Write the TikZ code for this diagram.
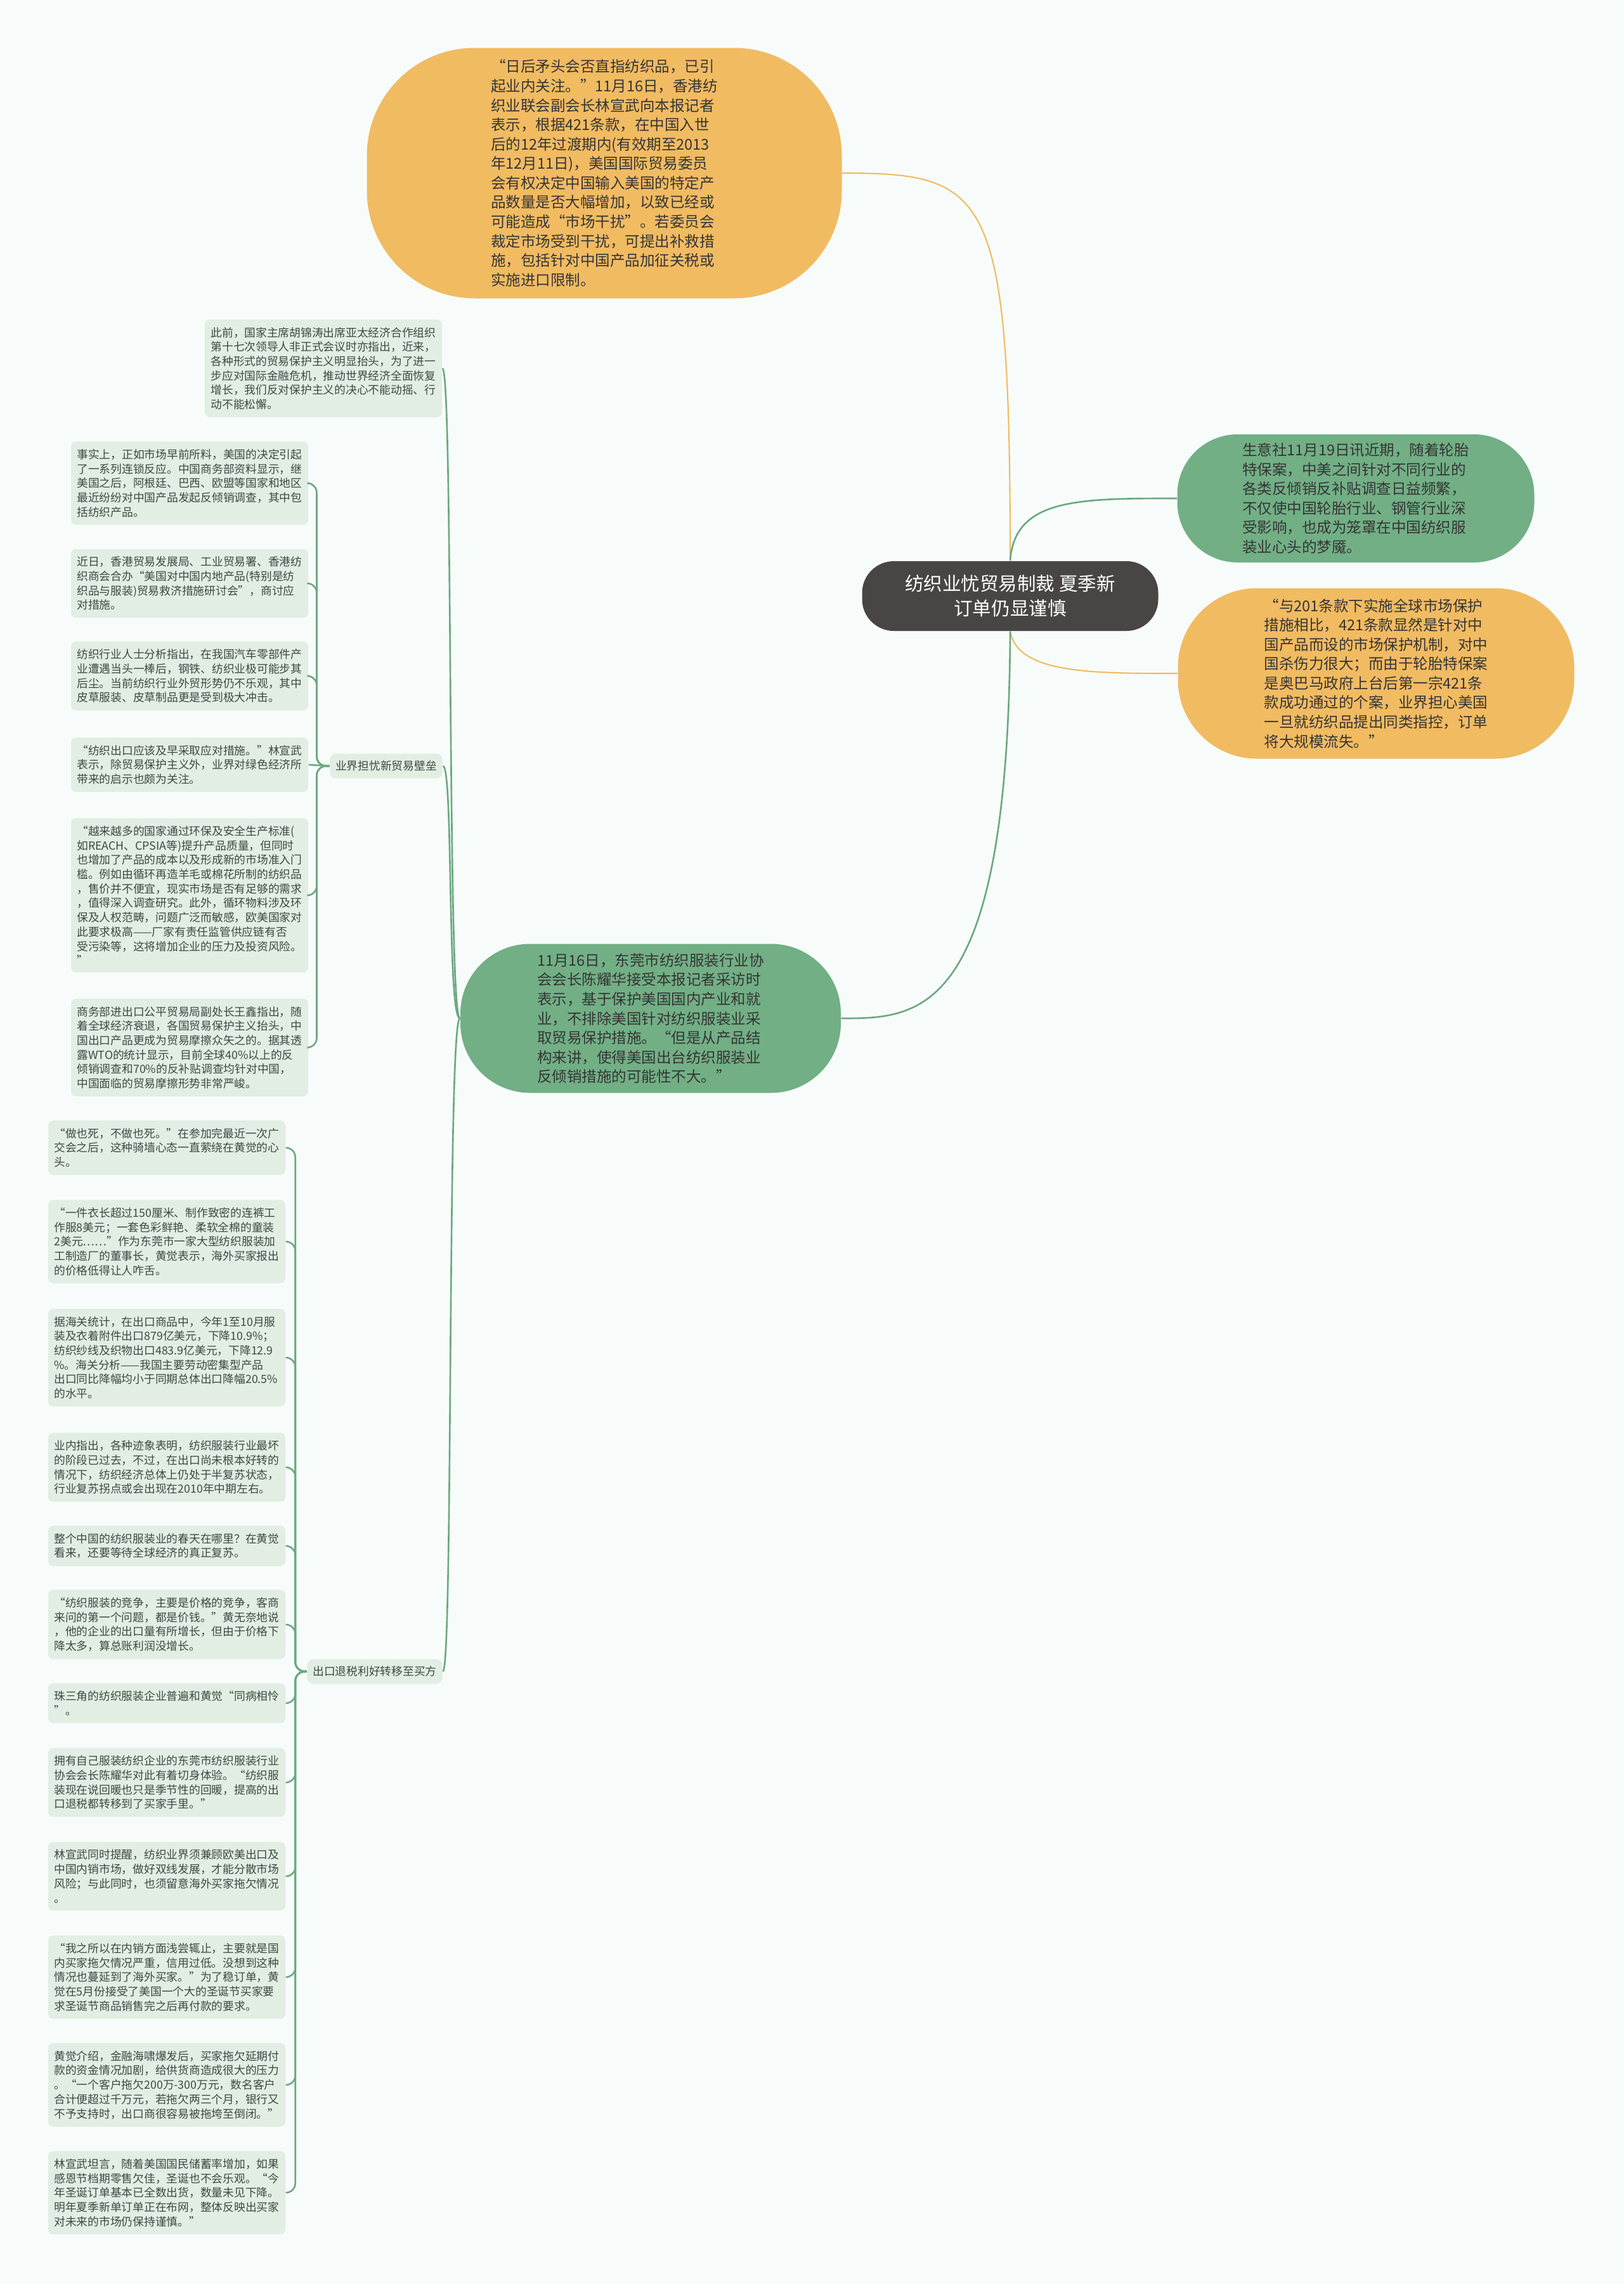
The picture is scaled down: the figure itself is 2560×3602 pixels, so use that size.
\documentclass[tikz,border=0pt]{standalone}
\usepackage{fontspec}
\setmainfont{Noto Sans CJK SC}

\definecolor{paper}{HTML}{F7FCFA}
\definecolor{rootgray}{HTML}{4A4545}
\definecolor{warmorange}{HTML}{F1BB62}
\definecolor{leafgreen}{HTML}{72AF85}
\definecolor{palegreen}{HTML}{E2EDE4}
\definecolor{linegreen}{HTML}{6DA881}
\definecolor{inktext}{HTML}{353535}
\definecolor{boxtext}{HTML}{3D4A40}

\begin{document}
\begin{tikzpicture}[
x=0.1mm, y=-0.1mm,
every node/.style={inner sep=0pt},
root/.style={
    fill=rootgray,
    text=white,
    rounded corners=5mm,
    minimum width=46.7mm,
    minimum height=11mm,
    align=center,
    font=\fontsize{8.4}{11.1}\selectfont
},
bigbox/.style={
    text=inktext,
    align=left,
    font=\fontsize{6.69}{8.7}\selectfont
},
topic/.style={
    fill=palegreen,
    text=boxtext,
    rounded corners=1mm,
    inner xsep=0.9mm,
    minimum height=3.9mm,
    font=\fontsize{5.05}{6.46}\selectfont
},
leaf/.style={
    fill=palegreen,
    text=boxtext,
    rounded corners=0.8mm,
    align=left,
    text width=35.5mm,
    inner xsep=0.95mm,
    inner ysep=1.2mm,
    font=\fontsize{5.05}{6.46}\selectfont
},
warmline/.style={draw=warmorange, line width=0.6pt},
coolline/.style={draw=linegreen, line width=0.75pt}
]

\useasboundingbox (0,0) rectangle (2560,3602);
\fill[paper] (0,0) rectangle (2560,3602);

%---------------- Centre and big topics ----------------
\node[root] (c) at (1593,940) {纺织业忧贸易制裁 夏季新\\订单仍显谨慎};

\node[bigbox, fill=warmorange, minimum width=74.9mm, minimum height=39.5mm,
      rounded corners=17mm] (ot) at (953,273) {“日后矛头会否直指纺织品，已引\\起业内关注。”11月16日，香港纺\\织业联会副会长林宣武向本报记者\\表示，根据421条款，在中国入世\\后的12年过渡期内(有效期至2013\\年12月11日)，美国国际贸易委员\\会有权决定中国输入美国的特定产\\品数量是否大幅增加，以致已经或\\可能造成“市场干扰”。若委员会\\裁定市场受到干扰，可提出补救措\\施，包括针对中国产品加征关税或\\实施进口限制。};

\node[bigbox, fill=leafgreen, minimum width=56.3mm, minimum height=20.2mm,
      rounded corners=9.5mm] (rg) at (2138,786) {生意社11月19日讯近期，随着轮胎\\特保案，中美之间针对不同行业的\\各类反倾销反补贴调查日益频繁，\\不仅使中国轮胎行业、钢管行业深\\受影响，也成为笼罩在中国纺织服\\装业心头的梦魇。};

\node[bigbox, fill=warmorange, minimum width=62.5mm, minimum height=26.9mm,
      rounded corners=12.5mm] (ro) at (2170,1062) {“与201条款下实施全球市场保护\\措施相比，421条款显然是针对中\\国产品而设的市场保护机制，对中\\国杀伤力很大；而由于轮胎特保案\\是奥巴马政府上台后第一宗421条\\款成功通过的个案，业界担心美国\\一旦就纺织品提出同类指控，订单\\将大规模流失。”};

\node[bigbox, fill=leafgreen, minimum width=60mm, minimum height=23.5mm,
      rounded corners=11mm] (bg) at (1026,1606) {11月16日，东莞市纺织服装行业协\\会会长陈耀华接受本报记者采访时\\表示，基于保护美国国内产业和就\\业，不排除美国针对纺织服装业采\\取贸易保护措施。“但是从产品结\\构来讲，使得美国出台纺织服装业\\反倾销措施的可能性不大。”};

\draw[warmline] (c.north) .. controls (1593,300) and (1560,273) .. (ot.east);
\draw[coolline] (c.north) .. controls (1600,786) and (1700,786) .. (rg.west);
\draw[warmline] (c.south) .. controls (1605,1062) and (1720,1062) .. (ro.west);
\draw[coolline] (c.south) .. controls (1590,1606) and (1450,1606) .. (bg.east);

%---------------- Left branches ----------------
\node[leaf] (pre) at (510,581) {此前，国家主席胡锦涛出席亚太经济合作组织\\第十七次领导人非正式会议时亦指出，近来，\\各种形式的贸易保护主义明显抬头，为了进一\\步应对国际金融危机，推动世界经济全面恢复\\增长，我们反对保护主义的决心不能动摇、行\\动不能松懈。};
\node[topic] (yj) at (609,1208) {业界担忧新贸易壁垒};
\node[topic] (ck) at (591,2636) {出口退税利好转移至买方};

\draw[coolline] (bg.west) .. controls (705,1606) and (715,581) .. (pre.east);
\draw[coolline] (bg.west) .. controls (705,1606) and (715,1208) .. (yj.east);
\draw[coolline] (bg.west) .. controls (705,1606) and (715,2636) .. (ck.east);

%---------------- Trade barrier worries ----------------
\node[leaf] (a) at (299,762) {事实上，正如市场早前所料，美国的决定引起\\了一系列连锁反应。中国商务部资料显示，继\\美国之后，阿根廷、巴西、欧盟等国家和地区\\最近纷纷对中国产品发起反倾销调查，其中包\\括纺织产品。};
\node[leaf] (b) at (299,920) {近日，香港贸易发展局、工业贸易署、香港纺\\织商会合办“美国对中国内地产品(特别是纺\\织品与服装)贸易救济措施研讨会”，商讨应\\对措施。};
\node[leaf] (d) at (299,1066) {纺织行业人士分析指出，在我国汽车零部件产\\业遭遇当头一棒后，钢铁、纺织业极可能步其\\后尘。当前纺织行业外贸形势仍不乐观，其中\\皮草服装、皮草制品更是受到极大冲击。};
\node[leaf] (e) at (299,1206) {“纺织出口应该及早采取应对措施。”林宣武\\表示，除贸易保护主义外，业界对绿色经济所\\带来的启示也颇为关注。};
\node[leaf] (f) at (299,1412) {“越来越多的国家通过环保及安全生产标准(\\如REACH、CPSIA等)提升产品质量，但同时\\也增加了产品的成本以及形成新的市场准入门\\槛。例如由循环再造羊毛或棉花所制的纺织品\\，售价并不便宜，现实市场是否有足够的需求\\，值得深入调查研究。此外，循环物料涉及环\\保及人权范畴，问题广泛而敏感，欧美国家对\\此要求极高——厂家有责任监管供应链有否\\受污染等，这将增加企业的压力及投资风险。\\”};
\node[leaf] (g) at (299,1652) {商务部进出口公平贸易局副处长王鑫指出，随\\着全球经济衰退，各国贸易保护主义抬头，中\\国出口产品更成为贸易摩擦众矢之的。据其透\\露WTO的统计显示，目前全球40\%以上的反\\倾销调查和70\%的反补贴调查均针对中国，\\中国面临的贸易摩擦形势非常严峻。};

\draw[coolline, rounded corners=1.5mm] (yj.west) -- ++(-20,0) |- (a.east);
\draw[coolline, rounded corners=1.5mm] (yj.west) -- ++(-20,0) |- (b.east);
\draw[coolline, rounded corners=1.5mm] (yj.west) -- ++(-20,0) |- (d.east);
\draw[coolline] (yj.west) -- (e.east);
\draw[coolline, rounded corners=1.5mm] (yj.west) -- ++(-20,0) |- (f.east);
\draw[coolline, rounded corners=1.5mm] (yj.west) -- ++(-20,0) |- (g.east);

%---------------- Export tax rebate ----------------
\node[leaf] (h) at (263,1810) {“做也死，不做也死。”在参加完最近一次广\\交会之后，这种骑墙心态一直萦绕在黄觉的心\\头。};
\node[leaf] (i) at (263,1958) {“一件衣长超过150厘米、制作致密的连裤工\\作服8美元；一套色彩鲜艳、柔软全棉的童装\\2美元……”作为东莞市一家大型纺织服装加\\工制造厂的董事长，黄觉表示，海外买家报出\\的价格低得让人咋舌。};
\node[leaf] (j) at (263,2141) {据海关统计，在出口商品中，今年1至10月服\\装及衣着附件出口879亿美元，下降10.9\%；\\纺织纱线及织物出口483.9亿美元，下降12.9\\\%。海关分析——我国主要劳动密集型产品\\出口同比降幅均小于同期总体出口降幅20.5\%\\的水平。};
\node[leaf] (k) at (263,2314) {业内指出，各种迹象表明，纺织服装行业最坏\\的阶段已过去，不过，在出口尚未根本好转的\\情况下，纺织经济总体上仍处于半复苏状态，\\行业复苏拐点或会出现在2010年中期左右。};
\node[leaf] (l) at (263,2438) {整个中国的纺织服装业的春天在哪里？在黄觉\\看来，还要等待全球经济的真正复苏。};
\node[leaf] (m) at (263,2562) {“纺织服装的竞争，主要是价格的竞争，客商\\来问的第一个问题，都是价钱。”黄无奈地说\\，他的企业的出口量有所增长，但由于价格下\\降太多，算总账利润没增长。};
\node[leaf] (n) at (263,2686) {珠三角的纺织服装企业普遍和黄觉“同病相怜\\”。};
\node[leaf] (o) at (263,2811) {拥有自己服装纺织企业的东莞市纺织服装行业\\协会会长陈耀华对此有着切身体验。“纺织服\\装现在说回暖也只是季节性的回暖，提高的出\\口退税都转移到了买家手里。”};
\node[leaf] (p) at (263,2959) {林宣武同时提醒，纺织业界须兼顾欧美出口及\\中国内销市场，做好双线发展，才能分散市场\\风险；与此同时，也须留意海外买家拖欠情况\\。};
\node[leaf] (q) at (263,3118) {“我之所以在内销方面浅尝辄止，主要就是国\\内买家拖欠情况严重，信用过低。没想到这种\\情况也蔓延到了海外买家。”为了稳订单，黄\\觉在5月份接受了美国一个大的圣诞节买家要\\求圣诞节商品销售完之后再付款的要求。};
\node[leaf] (r) at (263,3288) {黄觉介绍，金融海啸爆发后，买家拖欠延期付\\款的资金情况加剧，给供货商造成很大的压力\\。“一个客户拖欠200万-300万元，数名客户\\合计便超过千万元，若拖欠两三个月，银行又\\不予支持时，出口商很容易被拖垮至倒闭。”};
\node[leaf] (s) at (263,3458) {林宣武坦言，随着美国国民储蓄率增加，如果\\感恩节档期零售欠佳，圣诞也不会乐观。“今\\年圣诞订单基本已全数出货，数量未见下降。\\明年夏季新单订单正在布网，整体反映出买家\\对未来的市场仍保持谨慎。”};

\draw[coolline, rounded corners=1.5mm] (ck.west) -- ++(-18,0) |- (h.east);
\draw[coolline, rounded corners=1.5mm] (ck.west) -- ++(-18,0) |- (i.east);
\draw[coolline, rounded corners=1.5mm] (ck.west) -- ++(-18,0) |- (j.east);
\draw[coolline, rounded corners=1.5mm] (ck.west) -- ++(-18,0) |- (k.east);
\draw[coolline, rounded corners=1.5mm] (ck.west) -- ++(-18,0) |- (l.east);
\draw[coolline, rounded corners=1.5mm] (ck.west) -- ++(-18,0) |- (m.east);
\draw[coolline, rounded corners=1.5mm] (ck.west) -- ++(-18,0) |- (n.east);
\draw[coolline, rounded corners=1.5mm] (ck.west) -- ++(-18,0) |- (o.east);
\draw[coolline, rounded corners=1.5mm] (ck.west) -- ++(-18,0) |- (p.east);
\draw[coolline, rounded corners=1.5mm] (ck.west) -- ++(-18,0) |- (q.east);
\draw[coolline, rounded corners=1.5mm] (ck.west) -- ++(-18,0) |- (r.east);
\draw[coolline, rounded corners=1.5mm] (ck.west) -- ++(-18,0) |- (s.east);

\end{tikzpicture}
\end{document}
